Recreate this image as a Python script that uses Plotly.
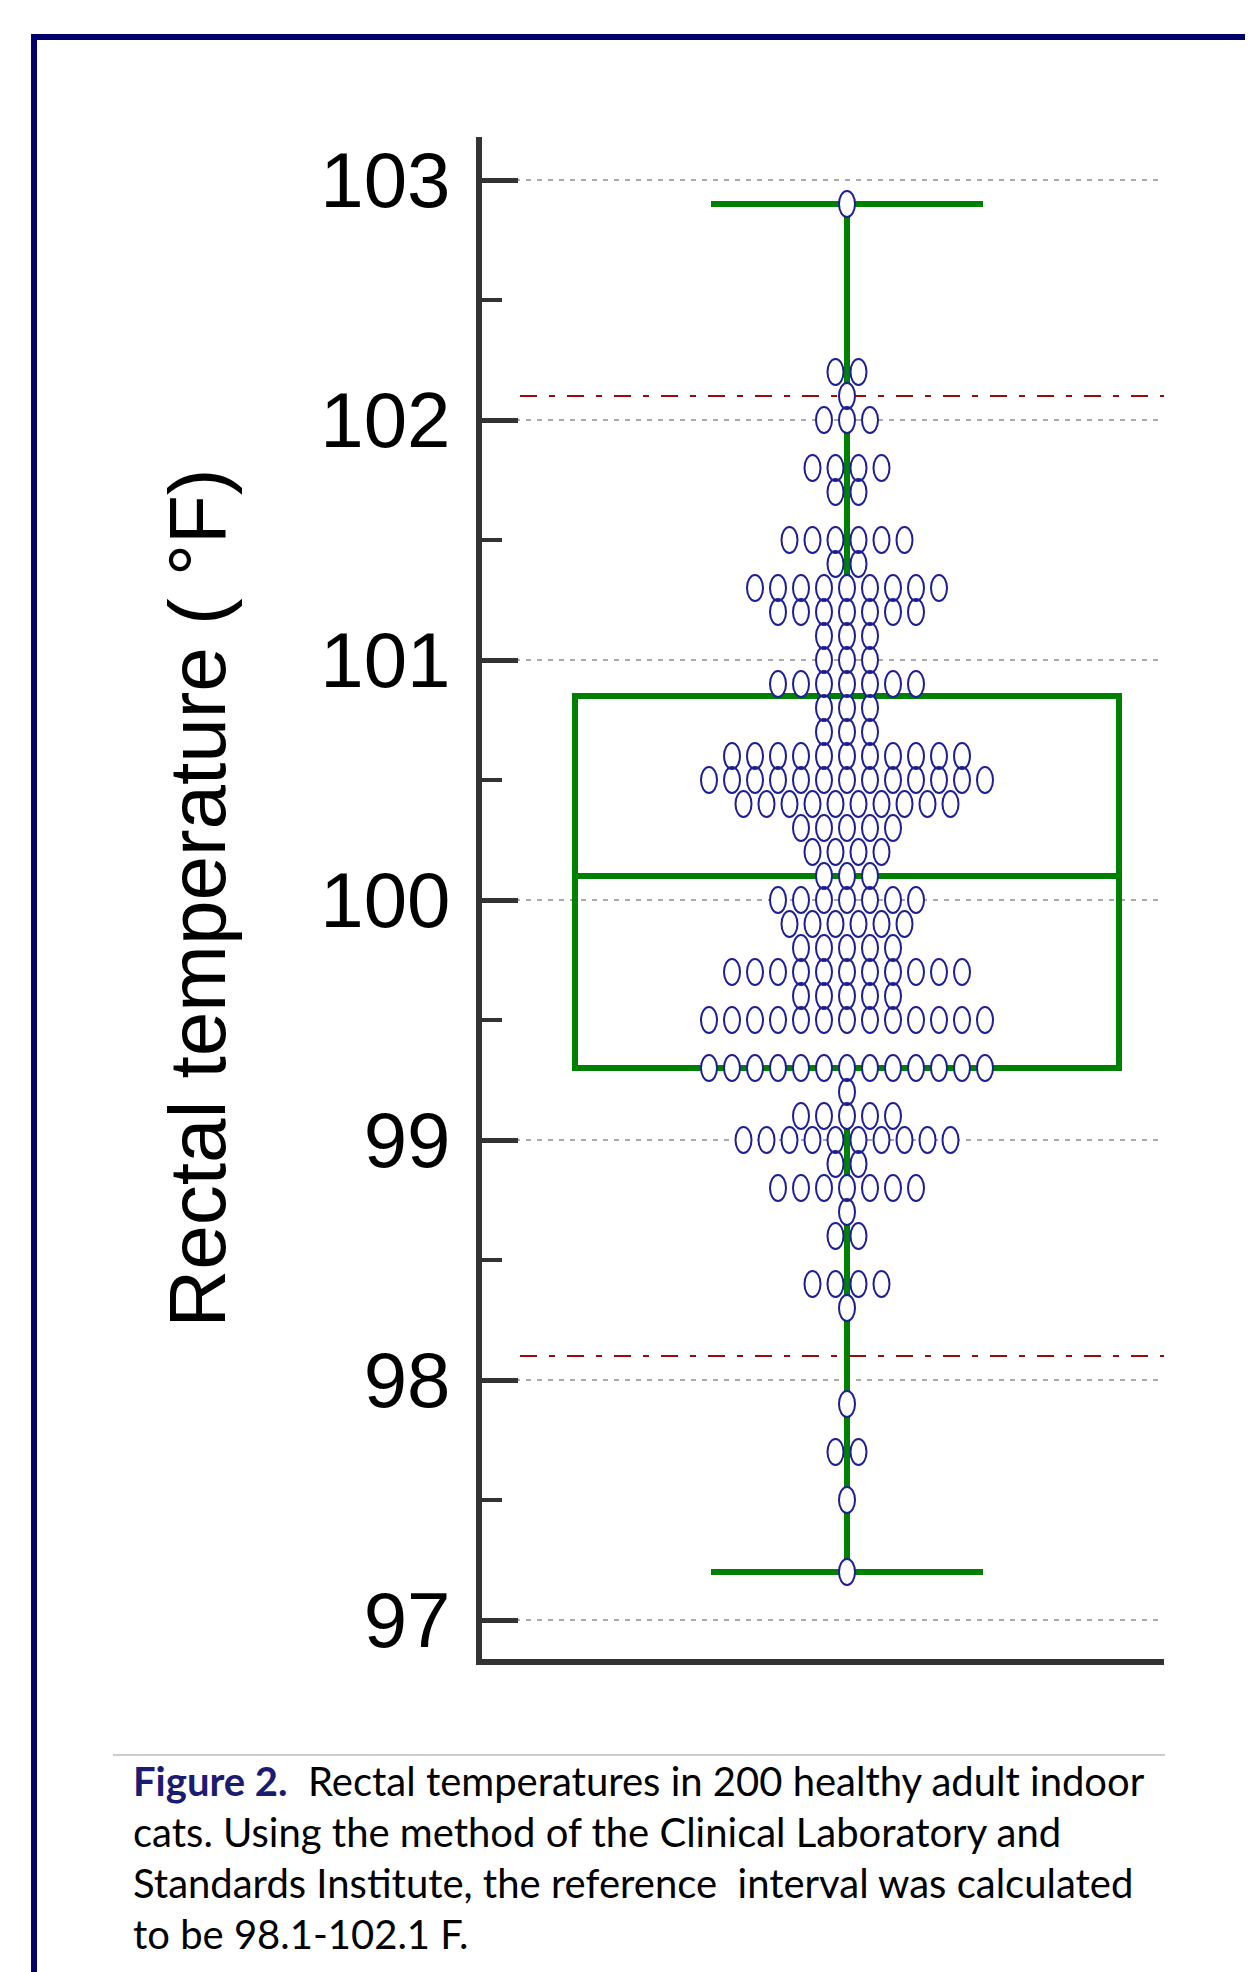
import plotly.graph_objects as go

# ---------------- data ----------------
row_temps = [102.9, 102.2, 102.1, 102.0, 101.8, 101.7, 101.5, 101.4, 101.3, 101.2,
             101.1, 101.0, 100.9, 100.8, 100.7, 100.6, 100.5, 100.4, 100.3, 100.2,
             100.1, 100.0, 99.9, 99.8, 99.7, 99.6, 99.5, 99.3, 99.2, 99.1,
             99.0, 98.9, 98.8, 98.7, 98.6, 98.4, 98.3, 97.9, 97.7, 97.5, 97.2]
row_counts = [1, 2, 1, 3, 4, 2, 6, 2, 9, 7,
              3, 3, 7, 3, 3, 11, 13, 10, 5, 4,
              3, 7, 6, 5, 11, 5, 13, 13, 1, 5,
              10, 2, 7, 1, 2, 4, 1, 1, 2, 1, 1]
ref_interval = [98.1, 102.1]
y_tick_vals = [97, 98, 99, 100, 101, 102, 103]
y_tick_text = ["97", "98", "99", "100", "101", "102", "103"]
y_title = "Rectal temperature ( °F)"
caption_bold = "Figure 2."
caption_lines = [
    "Rectal temperatures in 200 healthy adult indoor",
    "cats. Using the method of the Clinical Laboratory and",
    "Standards Institute, the reference  interval was calculated",
    "to be 98.1-102.1 F.",
]

# expand to individual observations
values = []
for t, c in zip(row_temps, row_counts):
    values += [t] * c

# ---------------- geometry (pixels) ----------------
W, H = 1253, 1972
L, R, T, B = 474, 1156, 129, 1651
CX = 839                      # centre of the column (px)
PX_PER_UNIT = 240.0           # px per degree
Y0_PX = 1612                  # pixel of 97
ymin = 97 - (B - Y0_PX) / PX_PER_UNIT
ymax = 97 + (Y0_PX - T) / PX_PER_UNIT
xmin, xmax = L - CX, R - CX   # x axis in pixel units around centre

def xp(px):
    return (px - L) / (R - L)

def yp(py):
    return (B - py) / (B - T)

DOT_STEP = 23
DOT_W = 16
DOT_H = 26 / PX_PER_UNIT
DOT_COLOR = "#1e1e96"
GREEN = "#008000"

fig = go.Figure()

fig.add_trace(go.Box(
    x=[0] * len(values), y=values, orientation="v",
    width=544, whiskerwidth=0.5, boxpoints=False,
    quartilemethod="linear",
    line=dict(color=GREEN, width=6),
    fillcolor="rgba(0,0,0,0)",
    showlegend=False, hoverinfo="skip",
))

shapes = []
# reference interval lines
for v in ref_interval:
    shapes.append(dict(type="line", xref="x", yref="y", x0=xmin + 38, x1=xmax,
                       y0=v, y1=v, layer="below",
                       line=dict(color="#990b0b", width=2.2, dash="17px,12px,6px,12px")))

# dots: white fills first, then outlines
centres = []
for t, c in zip(row_temps, row_counts):
    for i in range(c):
        centres.append(((i - (c - 1) / 2) * DOT_STEP, t))
for (xc, yc) in centres:
    shapes.append(dict(type="circle", xref="x", yref="y", layer="above",
                       x0=xc - DOT_W / 2, x1=xc + DOT_W / 2,
                       y0=yc - DOT_H / 2, y1=yc + DOT_H / 2,
                       fillcolor="white", line=dict(width=0)))
for (xc, yc) in centres:
    shapes.append(dict(type="circle", xref="x", yref="y", layer="above",
                       x0=xc - DOT_W / 2, x1=xc + DOT_W / 2,
                       y0=yc - DOT_H / 2, y1=yc + DOT_H / 2,
                       fillcolor="rgba(0,0,0,0)",
                       line=dict(color=DOT_COLOR, width=2)))

# frame (top + left, navy)
NAVY = "#00006a"
shapes.append(dict(type="line", xref="paper", yref="paper",
                   x0=xp(26), x1=xp(1260), y0=yp(29), y1=yp(29),
                   line=dict(color=NAVY, width=6)))
shapes.append(dict(type="line", xref="paper", yref="paper",
                   x0=xp(26), x1=xp(26), y0=yp(26), y1=yp(1980),
                   line=dict(color=NAVY, width=6)))
# caption separator
shapes.append(dict(type="line", xref="paper", yref="paper",
                   x0=xp(105), x1=xp(1157), y0=yp(1747), y1=yp(1747),
                   line=dict(color="#cccccc", width=2)))

annotations = []
cap_y = [1773, 1824, 1875, 1926]
for k, (line, py) in enumerate(zip(caption_lines, cap_y)):
    if k == 0:
        txt = ("<b><span style='color:#1b1b72'>" + caption_bold + "</span></b>"
               + "\u00a0\u00a0" + line)
    else:
        txt = line
    annotations.append(dict(xref="paper", yref="paper", x=xp(123), y=yp(py),
                            xanchor="left", yanchor="middle", showarrow=False,
                            text=txt, align="left",
                            font=dict(family="Lato", size=40, color="black")))

fig.update_layout(
    width=W, height=H,
    margin=dict(l=L, r=W - R, t=T, b=H - B, pad=0),
    paper_bgcolor="white", plot_bgcolor="white",
    shapes=shapes, annotations=annotations,
    showlegend=False,
    xaxis=dict(range=[xmin, xmax], showgrid=False, zeroline=False,
               showticklabels=False, ticks="",
               showline=True, linewidth=6, linecolor="#333333"),
    yaxis=dict(range=[ymin, ymax], tickvals=y_tick_vals, ticktext=y_tick_text,
               ticks="inside", ticklen=36, tickwidth=5, tickcolor="#333333",
               ticklabelstandoff=10,
               tickfont=dict(family="Liberation Sans", size=78, color="black"),
               minor=dict(dtick=0.5, tick0=97, ticks="inside", ticklen=20,
                          tickwidth=4, tickcolor="#333333", showgrid=False),
               showgrid=True, gridcolor="#aaaaaa", gridwidth=1.8, griddash="5px,6px",
               zeroline=False,
               showline=True, linewidth=6, linecolor="#333333",
               title=dict(text=y_title, standoff=70,
                          font=dict(family="Liberation Sans", size=80, color="black"))),
)

fig.write_html("out.html")
